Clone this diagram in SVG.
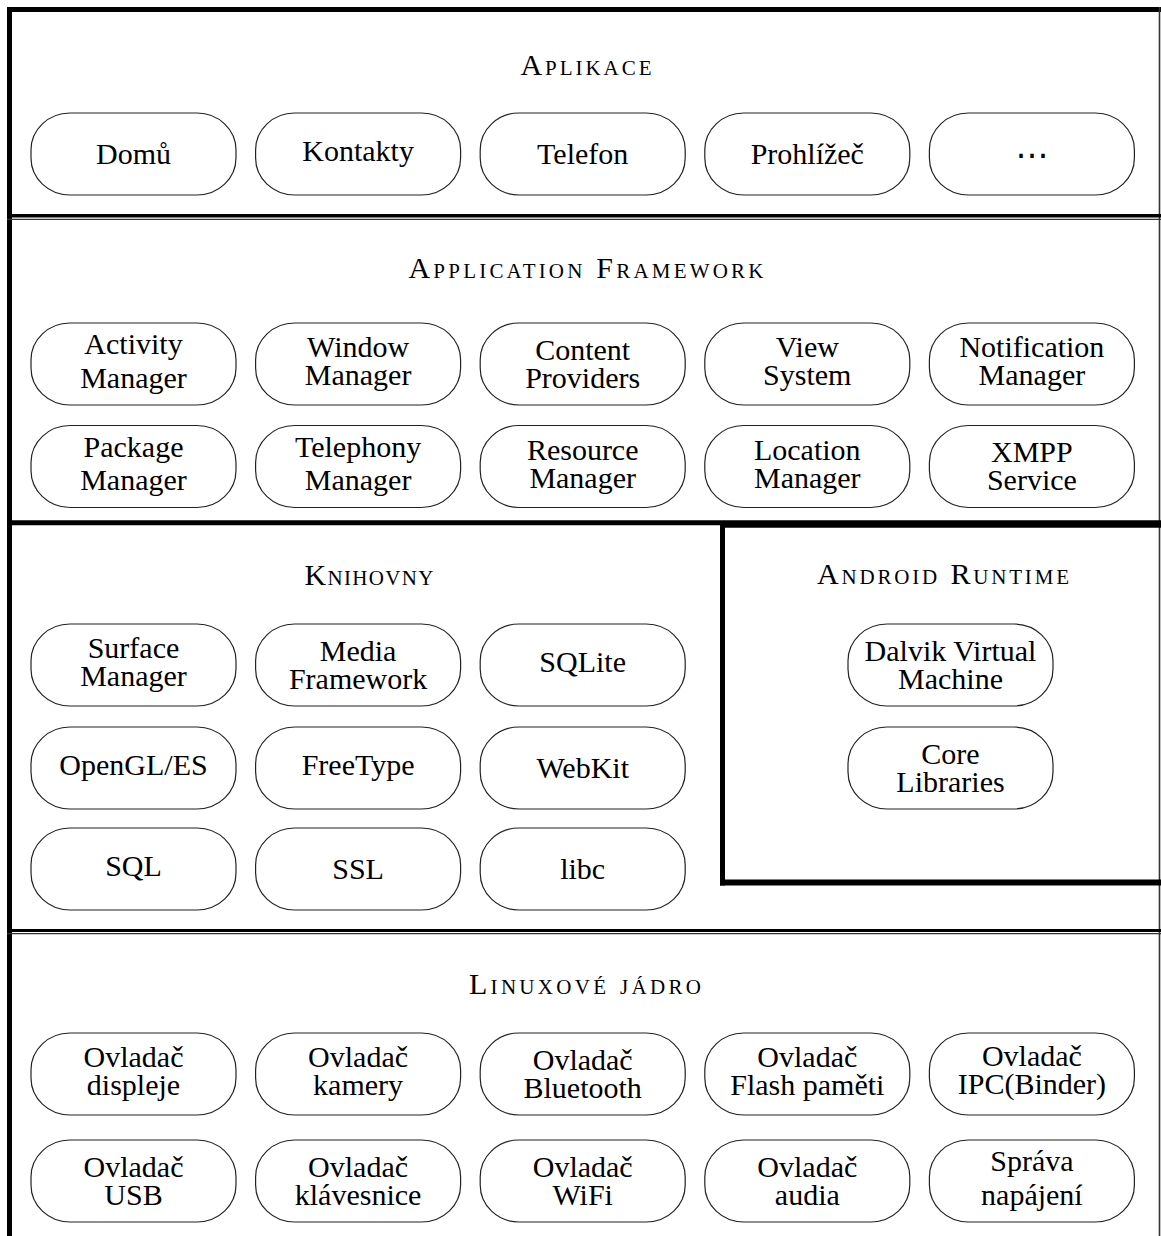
<svg xmlns="http://www.w3.org/2000/svg" width="1161" height="1236" viewBox="0 0 1161 1236">
<style>
.pill{fill:#fff;stroke:#222;stroke-width:1.2}
.t{font-family:"Liberation Serif","Times New Roman",serif;font-size:30px;text-anchor:middle;fill:#000}
.title{font-family:"Liberation Serif","Times New Roman",serif;font-size:30px;font-variant:small-caps;text-anchor:middle;fill:#000}
.dots{font-family:"DejaVu Sans",sans-serif;font-size:33px;text-anchor:middle;fill:#000}
.thick{stroke:#000;fill:none}
.thin{stroke:#333;fill:none}
</style>
<defs>
<rect id="pill" width="205" height="82" rx="39" ry="37"/>
</defs>
<rect width="1161" height="1236" fill="#fff"/>

<g id="frame">
<line class="thick" x1="7" y1="9.5" x2="1161" y2="9.5" stroke-width="5"/>
<line class="thick" x1="9.5" y1="7" x2="9.5" y2="1236" stroke-width="5"/>
<line class="thin" x1="1159.5" y1="7" x2="1159.5" y2="1236" stroke-width="1.6"/>
<line class="thick" x1="7" y1="215.8" x2="1161" y2="215.8" stroke-width="3.6"/>
<line class="thin" x1="7" y1="219.3" x2="1161" y2="219.3" stroke-width="1.3"/>
<line class="thick" x1="7" y1="522.8" x2="1161" y2="522.8" stroke-width="5"/>
<line class="thick" x1="7" y1="930.5" x2="1161" y2="930.5" stroke-width="3.2"/>
<line class="thin" x1="7" y1="933.6" x2="1161" y2="933.6" stroke-width="1.3"/>
</g>

<g id="runtime-box">
<line class="thick" x1="720" y1="524.8" x2="1161" y2="524.8" stroke-width="6"/>
<line class="thick" x1="722.5" y1="521" x2="722.5" y2="885.5" stroke-width="5"/>
<line class="thick" x1="720" y1="882.5" x2="1161" y2="882.5" stroke-width="6"/>
</g>

<g id="titles">
<text class="title" x="586" y="74.5" textLength="131" lengthAdjust="spacing">Aplikace</text>
<text class="title" x="586" y="277.5" textLength="355" lengthAdjust="spacing">Application Framework</text>
<text class="title" x="369" y="585" textLength="129" lengthAdjust="spacing">Knihovny</text>
<text class="title" x="943" y="584" textLength="252" lengthAdjust="spacing">Android Runtime</text>
<text class="title" x="585" y="993.5" textLength="232" lengthAdjust="spacing">Linuxové jádro</text>
</g>

<!-- Aplikace -->
<g id="n-domu"><use href="#pill" x="31" y="113" class="pill"/><text class="t" x="133.5" y="163.7">Domů</text></g>
<g id="n-kontakty"><use href="#pill" x="255.6" y="113" class="pill"/><text class="t" x="358.1" y="161">Kontakty</text></g>
<g id="n-telefon"><use href="#pill" x="480.2" y="113" class="pill"/><text class="t" x="582.7" y="163.7">Telefon</text></g>
<g id="n-prohlizec"><use href="#pill" x="704.8" y="113" class="pill"/><text class="t" x="807.3" y="163.7">Prohlížeč</text></g>
<g id="n-more"><use href="#pill" x="929.4" y="113" class="pill"/><text class="dots" x="1031.9" y="165.5">⋯</text></g>

<!-- Application Framework row 1 -->
<g id="n-activity"><use href="#pill" x="31" y="323" class="pill"/><text class="t"><tspan x="133.5" y="354.3">Activity</tspan><tspan x="133.5" y="387.7">Manager</tspan></text></g>
<g id="n-window"><use href="#pill" x="255.6" y="323" class="pill"/><text class="t"><tspan x="358.1" y="357">Window</tspan><tspan x="358.1" y="385">Manager</tspan></text></g>
<g id="n-content"><use href="#pill" x="480.2" y="323" class="pill"/><text class="t"><tspan x="582.7" y="359.7">Content</tspan><tspan x="582.7" y="387.7">Providers</tspan></text></g>
<g id="n-view"><use href="#pill" x="704.8" y="323" class="pill"/><text class="t"><tspan x="807.3" y="357">View</tspan><tspan x="807.3" y="385">System</tspan></text></g>
<g id="n-notification"><use href="#pill" x="929.4" y="323" class="pill"/><text class="t"><tspan x="1031.9" y="357">Notification</tspan><tspan x="1031.9" y="385">Manager</tspan></text></g>

<!-- Application Framework row 2 -->
<g id="n-package"><use href="#pill" x="31" y="425.5" class="pill"/><text class="t"><tspan x="133.5" y="456.8">Package</tspan><tspan x="133.5" y="490.2">Manager</tspan></text></g>
<g id="n-telephony"><use href="#pill" x="255.6" y="425.5" class="pill"/><text class="t"><tspan x="358.1" y="456.8">Telephony</tspan><tspan x="358.1" y="490.2">Manager</tspan></text></g>
<g id="n-resource"><use href="#pill" x="480.2" y="425.5" class="pill"/><text class="t"><tspan x="582.7" y="459.5">Resource</tspan><tspan x="582.7" y="487.5">Manager</tspan></text></g>
<g id="n-location"><use href="#pill" x="704.8" y="425.5" class="pill"/><text class="t"><tspan x="807.3" y="459.5">Location</tspan><tspan x="807.3" y="487.5">Manager</tspan></text></g>
<g id="n-xmpp"><use href="#pill" x="929.4" y="425.5" class="pill"/><text class="t"><tspan x="1031.9" y="462.2">XMPP</tspan><tspan x="1031.9" y="490.2">Service</tspan></text></g>

<!-- Knihovny -->
<g id="n-surface"><use href="#pill" x="31" y="624" class="pill"/><text class="t"><tspan x="133.5" y="658">Surface</tspan><tspan x="133.5" y="686">Manager</tspan></text></g>
<g id="n-media"><use href="#pill" x="255.6" y="624" class="pill"/><text class="t"><tspan x="358.1" y="660.7">Media</tspan><tspan x="358.1" y="688.7">Framework</tspan></text></g>
<g id="n-sqlite"><use href="#pill" x="480.2" y="624" class="pill"/><text class="t" x="582.7" y="672">SQLite</text></g>
<g id="n-opengl"><use href="#pill" x="31" y="727" class="pill"/><text class="t" x="133.5" y="775">OpenGL/ES</text></g>
<g id="n-freetype"><use href="#pill" x="255.6" y="727" class="pill"/><text class="t" x="358.1" y="775">FreeType</text></g>
<g id="n-webkit"><use href="#pill" x="480.2" y="727" class="pill"/><text class="t" x="582.7" y="777.7">WebKit</text></g>
<g id="n-sql"><use href="#pill" x="31" y="828" class="pill"/><text class="t" x="133.5" y="876">SQL</text></g>
<g id="n-ssl"><use href="#pill" x="255.6" y="828" class="pill"/><text class="t" x="358.1" y="878.7">SSL</text></g>
<g id="n-libc"><use href="#pill" x="480.2" y="828" class="pill"/><text class="t" x="582.7" y="878.7">libc</text></g>

<!-- Android Runtime -->
<g id="n-dalvik"><use href="#pill" x="848" y="624" class="pill"/><text class="t"><tspan x="950.5" y="660.7">Dalvik Virtual</tspan><tspan x="950.5" y="688.7">Machine</tspan></text></g>
<g id="n-core"><use href="#pill" x="848" y="727" class="pill"/><text class="t"><tspan x="950.5" y="763.7">Core</tspan><tspan x="950.5" y="791.7">Libraries</tspan></text></g>

<!-- Linuxové jádro row 1 -->
<g id="n-displej"><use href="#pill" x="31" y="1033" class="pill"/><text class="t"><tspan x="133.5" y="1067">Ovladač</tspan><tspan x="133.5" y="1095">displeje</tspan></text></g>
<g id="n-kamera"><use href="#pill" x="255.6" y="1033" class="pill"/><text class="t"><tspan x="358.1" y="1067">Ovladač</tspan><tspan x="358.1" y="1095">kamery</tspan></text></g>
<g id="n-bluetooth"><use href="#pill" x="480.2" y="1033" class="pill"/><text class="t"><tspan x="582.7" y="1069.7">Ovladač</tspan><tspan x="582.7" y="1097.7">Bluetooth</tspan></text></g>
<g id="n-flash"><use href="#pill" x="704.8" y="1033" class="pill"/><text class="t"><tspan x="807.3" y="1067">Ovladač</tspan><tspan x="807.3" y="1095">Flash paměti</tspan></text></g>
<g id="n-ipc"><use href="#pill" x="929.4" y="1033" class="pill"/><text class="t"><tspan x="1031.9" y="1066.2">Ovladač</tspan><tspan x="1031.9" y="1094.2">IPC(Binder)</tspan></text></g>

<!-- Linuxové jádro row 2 -->
<g id="n-usb"><use href="#pill" x="31" y="1140" class="pill"/><text class="t"><tspan x="133.5" y="1176.7">Ovladač</tspan><tspan x="133.5" y="1204.7">USB</tspan></text></g>
<g id="n-klavesnice"><use href="#pill" x="255.6" y="1140" class="pill"/><text class="t"><tspan x="358.1" y="1176.7">Ovladač</tspan><tspan x="358.1" y="1204.7">klávesnice</tspan></text></g>
<g id="n-wifi"><use href="#pill" x="480.2" y="1140" class="pill"/><text class="t"><tspan x="582.7" y="1176.7">Ovladač</tspan><tspan x="582.7" y="1204.7">WiFi</tspan></text></g>
<g id="n-audio"><use href="#pill" x="704.8" y="1140" class="pill"/><text class="t"><tspan x="807.3" y="1176.7">Ovladač</tspan><tspan x="807.3" y="1204.7">audia</tspan></text></g>
<g id="n-napajeni"><use href="#pill" x="929.4" y="1140" class="pill"/><text class="t"><tspan x="1031.9" y="1171.3">Správa</tspan><tspan x="1031.9" y="1204.7">napájení</tspan></text></g>
</svg>
